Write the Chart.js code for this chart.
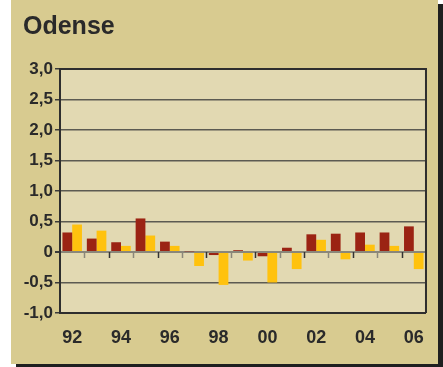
<!DOCTYPE html>
<html>
<head>
<meta charset="utf-8">
<script src="https://cdn.jsdelivr.net/npm/chart.js@4"></script>
<style>
  html, body { margin: 0; padding: 0; background: #ffffff; }
  #panel {
    position: absolute;
    left: 11px;
    top: 0;
    width: 427px;
    height: 364px;
    background: #d8cb90;
    box-shadow: 5px 4px 0 #1f1f1f;
  }
  canvas { display: block; }
</style>
</head>
<body>
<div id="panel">
  <canvas id="odenseChart" width="427" height="364"></canvas>
</div>
<script>
// Years 1992-2006, two series
const years = ['92', '93', '94', '95', '96', '97', '98', '99', '00', '01', '02', '03', '04', '05', '06'];
const seriesRed = [0.32, 0.22, 0.16, 0.55, 0.17, 0.01, -0.05, 0.03, -0.07, 0.07, 0.29, 0.30, 0.32, 0.32, 0.42];
const seriesYellow = [0.45, 0.35, 0.10, 0.27, 0.10, -0.23, -0.54, -0.14, -0.50, -0.28, 0.20, -0.12, 0.12, 0.10, -0.28];
const yTicks = [3.0, 2.5, 2.0, 1.5, 1.0, 0.5, 0, -0.5, -1.0];

const textColor = '#2a2a2a';

// plot background, frame and the small ticks on the zero line
const framePlugin = {
    id: 'frame',
    beforeDraw(chart) {
        const { ctx, chartArea: a } = chart;
        ctx.save();
        ctx.fillStyle = '#e2d9b2';
        ctx.fillRect(a.left, a.top, a.right - a.left, a.bottom - a.top);
        ctx.restore();
    },
    afterDraw(chart) {
        const { ctx, chartArea: a, scales } = chart;
        const zeroY = scales.y.getPixelForValue(0);
        const step = (a.right - a.left) / years.length;
        ctx.save();
        ctx.lineWidth = 1.5;
        for (let i = 1; i < years.length; i++) {
            const x = Math.round(a.left + i * step) + 0.5;
            ctx.strokeStyle = i % 2 ? '#8a877a' : '#333333';
            ctx.beginPath();
            ctx.moveTo(x, zeroY);
            ctx.lineTo(x, zeroY + 6);
            ctx.stroke();
        }
        ctx.strokeStyle = '#2e2e2e';
        ctx.lineWidth = 2;
        ctx.beginPath();
        ctx.moveTo(a.left, a.top);
        ctx.lineTo(a.right, a.top);
        ctx.lineTo(a.right, a.bottom);
        ctx.stroke();

        // title
        ctx.fillStyle = textColor;
        ctx.font = 'bold 25px "Liberation Sans", Arial, sans-serif';
        ctx.textBaseline = 'alphabetic';
        ctx.fillText('Odense', 12, 34);
        ctx.restore();
    }
};

new Chart(document.getElementById('odenseChart').getContext('2d'), {
    type: 'bar',
    data: {
        labels: years,
        datasets: [{
            data: seriesRed,
            backgroundColor: '#9b2313',
            borderWidth: 0,
            categoryPercentage: 0.8,
            barPercentage: 1.0
        }, {
            data: seriesYellow,
            backgroundColor: '#ffc20e',
            borderWidth: 0,
            categoryPercentage: 0.8,
            barPercentage: 1.0
        }]
    },
    options: {
        responsive: false,
        animation: false,
        devicePixelRatio: 1,
        layout: { padding: { top: 69, right: 6, left: 0, bottom: 0 } },
        plugins: {
            legend: { display: false },
            tooltip: { enabled: false }
        },
        scales: {
            x: {
                grid: { display: false, drawTicks: false },
                border: { display: true, color: '#2e2e2e', width: 2 },
                ticks: {
                    autoSkip: false,
                    maxRotation: 0,
                    padding: 14,
                    color: textColor,
                    font: { family: '"Liberation Sans", Arial, sans-serif', size: 18, weight: 'bold' },
                    callback: function (value, index) {
                        return index % 2 === 0 ? years[index] : '';
                    }
                },
                afterFit: function (scale) { scale.height = 51; }
            },
            y: {
                min: -1,
                max: 3,
                afterBuildTicks: function (scale) {
                    scale.ticks = yTicks.map(v => ({ value: v }));
                },
                grid: {
                    color: ctx => ctx.tick.value === 0 ? '#8a877a' : '#5c5b52',
                    lineWidth: ctx => ctx.tick.value === 0 ? 2 : 1.5,
                    tickLength: 5,
                    tickColor: '#3a3a3a'
                },
                border: { display: true, color: '#2e2e2e', width: 2 },
                ticks: {
                    padding: 2,
                    color: textColor,
                    font: { family: '"Liberation Sans", Arial, sans-serif', size: 17, weight: 'bold' },
                    callback: function (value) {
                        return value === 0 ? '0' : value.toFixed(1).replace('.', ',');
                    }
                },
                afterFit: function (scale) { scale.width = 49; }
            }
        }
    },
    plugins: [framePlugin]
});
</script>
</body>
</html>
